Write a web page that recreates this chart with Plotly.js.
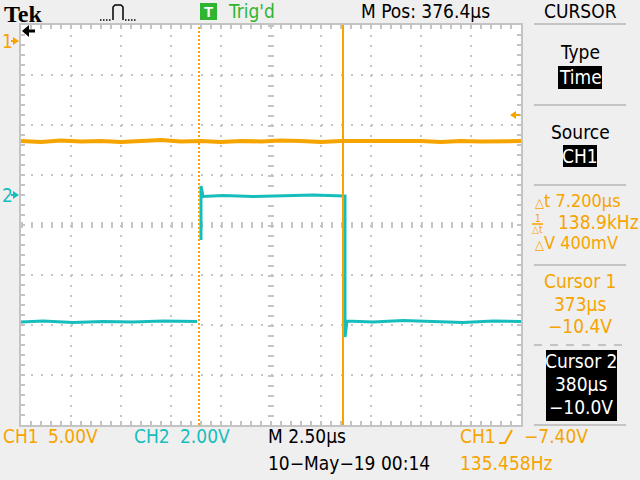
<!DOCTYPE html>
<html><head><meta charset="utf-8">
<script src="https://cdn.plot.ly/plotly-3.0.1.min.js"></script>
<style>html,body{margin:0;padding:0;background:#efefef;overflow:hidden}</style>
</head><body><div id="chart" style="width:640px;height:480px"></div>
<script>
// ---- scope settings ----
const mPos = 376.4;          // μs, horizontal centre
const timePerDiv = 2.5;      // μs/div
const ch1VoltsPerDiv = 5.0;
const ch2VoltsPerDiv = 2.0;
const ch1RefDiv = 3.68;      // CH1 ground marker position (div above centre)
const ch2RefDiv = 0.60;      // CH2 ground marker position
const triggerLevel = -7.40;  // V on CH1
const cursorTimes = [372.8, 380.0];   // μs
const cursorVolts = [-10.4, -10.0];   // V
const triggerFreq = '135.458Hz';
const dateText = '10\u2212May\u221219 00:14';

// ---- CH1 trace (μs, V) ----
const ch1Time = [363.9,364.9,365.9,366.9,367.9,368.9,369.9,370.9,371.9,372.9,373.9,374.9,375.9,376.9,377.9,378.9,379.9,380.9,381.9,382.9,383.9,384.9,385.9,386.9,387.9,388.9];
const ch1Volts = [-10.0,-10.1,-9.95,-10.05,-10.0,-10.1,-10.0,-9.9,-10.05,-10.0,-10.1,-10.0,-10.05,-9.95,-10.0,-10.1,-10.0,-10.0,-10.05,-9.95,-10.0,-10.1,-10.0,-10.05,-10.0,-10.0];

// ---- CH2 trace (μs, V) ----
const ch2Time = [363.9,365.0,366.5,368.0,369.5,371.0,372.7,null,372.9,372.9,373.0,374.0,375.5,377.0,378.5,380.05,380.1,380.1,380.2,381.5,383.0,384.5,386.0,387.5,388.9];
const ch2Volts = [-5.08,-5.04,-5.1,-5.06,-5.08,-5.04,-5.06,null,-1.8,0.36,-0.06,-0.02,-0.06,-0.04,0.0,-0.04,-0.04,-5.68,-5.04,-5.08,-5.02,-5.06,-5.1,-5.04,-5.06];

const ORANGE = '#f6a400', CYAN = '#17bdbd', GREEN = '#2fb52f', GRID = '#c4c4c4', BG = '#efefef';
const FONT = 'Liberation Sans Narrow, DejaVu Sans Condensed, Arial Narrow, sans-serif';
const L = 21, T = 25, W = 500, H = 400;
const px = x => (x - L) / W, py = y => (T + H - y) / H;

function txt(x, y, text, color, size, anchor, extra) {
  return Object.assign({xref:'paper', yref:'paper', x:px(x), y:py(y), text:text, showarrow:false,
    xanchor:anchor||'left', yanchor:'middle', borderpad:0, font:{family:FONT, size:size||19, color:color||'#000'}}, extra||{});
}
function rect(x0,y0,x1,y1,fill){ return {type:'rect',xref:'paper',yref:'paper',x0:px(x0),x1:px(x1),y0:py(y0),y1:py(y1),fillcolor:fill,line:{width:0},layer:'above'}; }
function hline(x0,x1,y,color,w,dash){ return {type:'line',xref:'paper',yref:'paper',x0:px(x0),x1:px(x1),y0:py(y),y1:py(y),line:{color:color,width:w||2,dash:dash||'solid'},layer:'above'}; }
function path(pts,color,fill,w){ let d=pts.map((p,i)=>(i?'L':'M')+px(p[0])+','+py(p[1])).join(' ')+(fill?' Z':''); return {type:'path',xref:'paper',yref:'paper',path:d,fillcolor:fill?color:undefined,line:{color:color,width:w||(fill?0:2)},layer:'above'}; }

const ch1Range = [(-4 - ch1RefDiv) * ch1VoltsPerDiv, (4 - ch1RefDiv) * ch1VoltsPerDiv];
const ch2Range = [(-4 - ch2RefDiv) * ch2VoltsPerDiv, (4 - ch2RefDiv) * ch2VoltsPerDiv];
const v2py1 = v => T + H/2 - (ch1RefDiv + v/ch1VoltsPerDiv) * 50;
const v2py2 = v => T + H/2 - (ch2RefDiv + v/ch2VoltsPerDiv) * 50;

const traces = [
  {x: ch1Time, y: ch1Volts, type:'scatter', mode:'lines', line:{color:ORANGE, width:4}, yaxis:'y', hoverinfo:'skip'},
  {x: ch2Time, y: ch2Volts, type:'scatter', mode:'lines', line:{color:CYAN, width:3}, yaxis:'y2', connectgaps:false, hoverinfo:'skip'}
];

const dt = cursorTimes[1] - cursorTimes[0];
const dV = Math.abs(cursorVolts[1] - cursorVolts[0]);
const fmtV = v => (v < 0 ? '\u2212' : '') + Math.abs(v).toFixed(1) + 'V';
const small = s => '<span style="font-size:13px">' + s + '</span>';

const shapes = [
  // centre cross ticks
  {type:'line',xref:'paper',yref:'paper',x0:0,x1:1,y0:0.5,y1:0.5,line:{color:GRID,width:6,dash:'2px,8px'},layer:'below'},
  {type:'line',xref:'paper',yref:'paper',x0:0.5,x1:0.5,y0:1,y1:0,line:{color:GRID,width:6,dash:'2px,8px'},layer:'below'},
  // cursors
  {type:'line',xref:'x',yref:'paper',x0:cursorTimes[0],x1:cursorTimes[0],y0:0,y1:1,line:{color:ORANGE,width:2,dash:'2px,2px'},layer:'above'},
  {type:'line',xref:'x',yref:'paper',x0:cursorTimes[1],x1:cursorTimes[1],y0:0,y1:1,line:{color:ORANGE,width:2},layer:'above'},
  // top bar
  rect(200,3,217,20,GREEN),
  path([[113,20],[113,7],[115,5],[121,5],[123,7],[123,20]],'#000',false,1.5),
  hline(100,111,20,'#000',1.5,'1.5px,1.5px'),
  hline(125,137,20,'#000',1.5,'1.5px,1.5px'),
  hline(534,626,24,GRID,2),
  // horizontal position arrow
  path([[22,31],[29,25],[29,37]],'#000',true),
  hline(28,35,31,'#000',3),
  // panel
  rect(558,66,602,89,'#000'),
  hline(534,626,105,GRID,2),
  rect(563,145,597,167,'#000'),
  hline(534,626,185,GRID,2),
  hline(532,543,224,ORANGE,1.5),
  hline(534,626,265,GRID,2),
  hline(534,626,345,GRID,2,'8px,8px'),
  rect(546,350,617,421,'#000'),
  hline(534,626,425,GRID,2),
  // trigger slope glyph
  path([[499,443],[505,443],[512,430]],ORANGE,false,2)
];
// channel ground markers and trigger level arrow, placed at their axis values
const y1g = v2py1(0), y2g = v2py2(0), yt = v2py1(triggerLevel);
shapes.push(path([[19,y1g],[13,y1g-4],[13,y1g+4]],ORANGE,true));
shapes.push(hline(11,14,y1g,ORANGE,2));
shapes.push(path([[19,y2g],[13,y2g-4],[13,y2g+4]],CYAN,true));
shapes.push(hline(11,14,y2g,CYAN,2));
shapes.push(path([[510,yt],[516,yt-4],[516,yt+4]],ORANGE,true));
shapes.push(hline(515,520,yt,ORANGE,2));

const annotations = [
  {xref:'paper',yref:'paper',x:px(3),y:py(0),text:'<b>Tek</b>',showarrow:false,xanchor:'left',yanchor:'top',borderpad:0,font:{family:'Liberation Serif, DejaVu Serif, serif',size:24,color:'#000'}},
  txt(208.5,11.5,'<b>T</b>','#fff',15,'center',{font:{family:'Liberation Sans, Arial, sans-serif',size:15,color:'#fff'}}),
  txt(227,11,"Trig'd",GREEN,19),
  txt(360,11,'M Pos: ' + mPos.toFixed(1) + '\u03bcs','#000',19),
  txt(580,11,'CURSOR','#000',19,'center'),
  txt(580,52,'Type','#000',19,'center'),
  txt(580,77,'Time','#fff',19,'center'),
  txt(580,132,'Source','#000',19,'center'),
  txt(580,156,'CH1','#fff',19,'center'),
  txt(534,201,small('\u25b3')+'t ' + dt.toFixed(3) + '\u03bcs',ORANGE,18),
  txt(537.5,218,'1',ORANGE,10,'center'),
  txt(537.5,230,'\u25b3t',ORANGE,10,'center'),
  txt(557,222,(1000/dt).toFixed(1)+'kHz',ORANGE,19),
  txt(534,243,small('\u25b3')+'V ' + (dV*1000).toFixed(0) + 'mV',ORANGE,18),
  txt(580,281,'Cursor 1',ORANGE,19,'center'),
  txt(580,304,Math.round(cursorTimes[0])+'\u03bcs',ORANGE,19,'center'),
  txt(580,326,fmtV(cursorVolts[0]),ORANGE,19,'center'),
  txt(581,361,'Cursor 2','#fff',19,'center'),
  txt(581,384,Math.round(cursorTimes[1])+'\u03bcs','#fff',19,'center'),
  txt(581,407,fmtV(cursorVolts[1]),'#fff',19,'center'),
  // bottom
  txt(2,436,'CH1',ORANGE,19),
  txt(47,436,ch1VoltsPerDiv.toFixed(2)+'V',ORANGE,19),
  txt(133,436,'CH2',CYAN,19),
  txt(179,436,ch2VoltsPerDiv.toFixed(2)+'V',CYAN,19),
  txt(267,436,'M '+timePerDiv.toFixed(2)+'\u03bcs','#000',19),
  txt(459,436,'CH1',ORANGE,19),
  txt(523,436,'\u2212'+Math.abs(triggerLevel).toFixed(2)+'V',ORANGE,19),
  txt(267,463,dateText,'#000',19),
  txt(459,463,triggerFreq,ORANGE,19),
  txt(1,y1g,'1',ORANGE,19),
  txt(1,y2g,'2',CYAN,19)
];

const axCommon = {showgrid:true, gridcolor:GRID, gridwidth:2, griddash:'2px,8px', zeroline:false,
  showline:true, linecolor:GRID, linewidth:2, mirror:'ticks', ticks:'inside', ticklen:4, tickwidth:2,
  tickcolor:GRID, showticklabels:false, fixedrange:true};

const layout = {
  width:640, height:480, margin:{l:L, r:640-L-W, t:T, b:480-T-H, pad:0},
  paper_bgcolor:BG, plot_bgcolor:'#ffffff', showlegend:false,
  font:{family:FONT},
  xaxis:Object.assign({}, axCommon, {range:[mPos-5*timePerDiv, mPos+5*timePerDiv], tick0:mPos, dtick:timePerDiv,
    minor:{tick0:mPos, dtick:timePerDiv/5, ticks:'inside', ticklen:4, tickwidth:2, tickcolor:GRID, showgrid:false}}),
  yaxis:Object.assign({}, axCommon, {range:ch1Range, tick0:ch1Range[0], dtick:ch1VoltsPerDiv,
    minor:{tick0:ch1Range[0], dtick:ch1VoltsPerDiv/5, ticks:'inside', ticklen:4, tickwidth:2, tickcolor:GRID, showgrid:false}}),
  yaxis2:{overlaying:'y', side:'right', range:ch2Range, showgrid:false, zeroline:false, showticklabels:false, showline:false, ticks:'', fixedrange:true},
  shapes:shapes, annotations:annotations
};
Plotly.newPlot('chart', traces, layout, {staticPlot:true, displayModeBar:false});
</script></body></html>
